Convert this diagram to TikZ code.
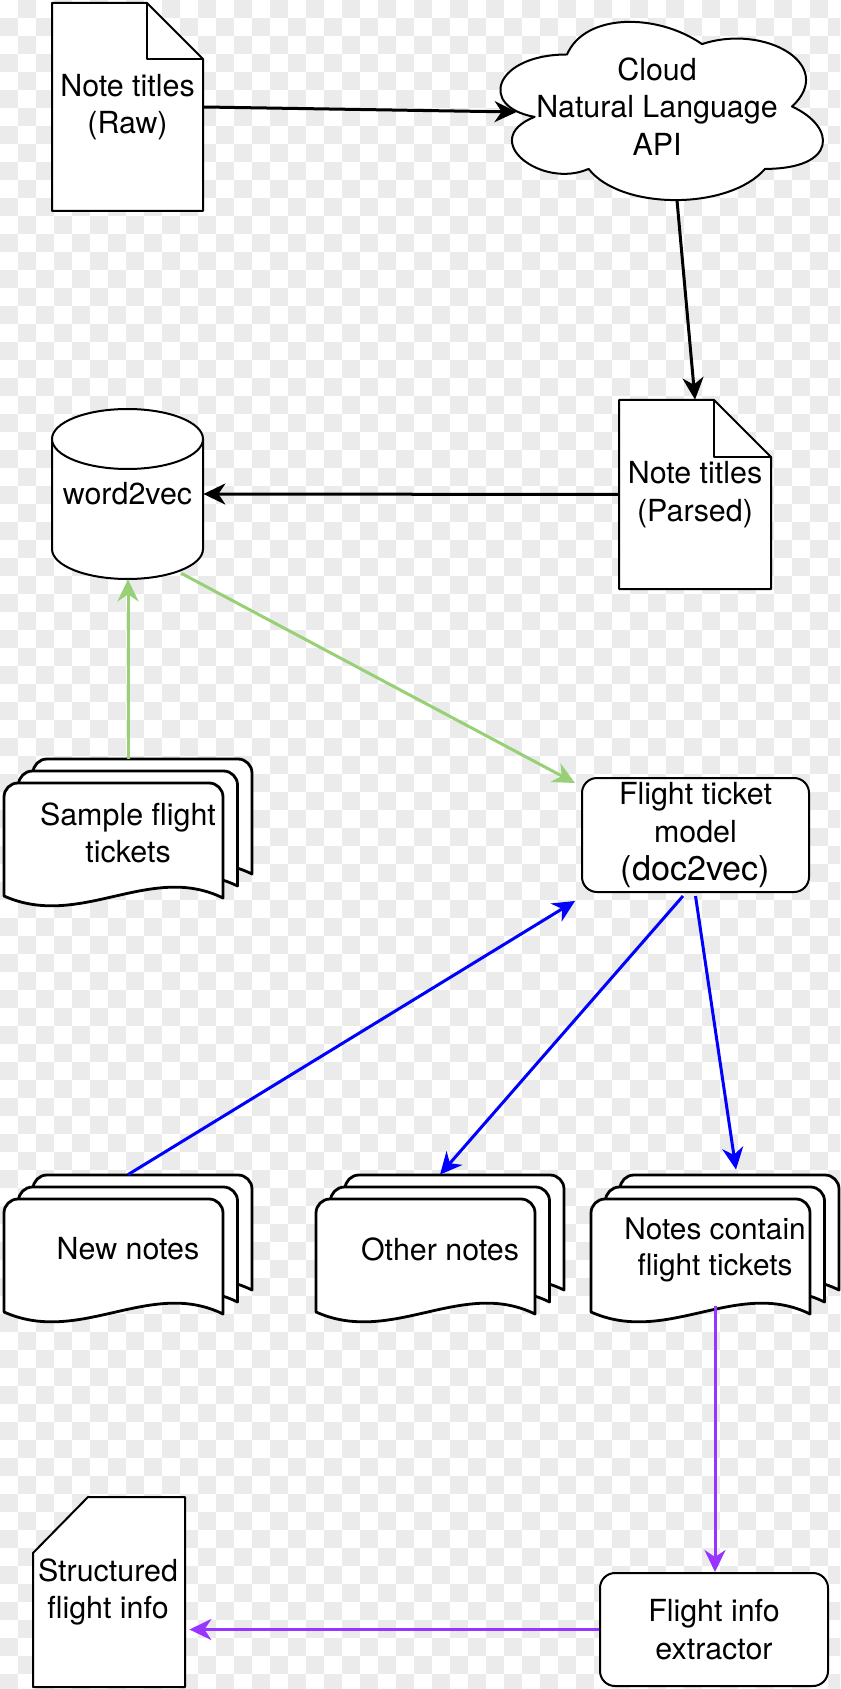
\documentclass[tikz,border=0pt]{standalone}
\usepackage{fontspec}
\setmainfont{TeX Gyre Heros}
\usetikzlibrary{arrows.meta,calc}
\definecolor{cbgray}{RGB}{235,235,235}
\definecolor{lgreen}{RGB}{151,208,119}
\definecolor{dblue}{RGB}{0,0,255}
\definecolor{dpurple}{RGB}{153,51,255}
\newcommand\onesheet[2]{%
  \draw[sheetline] (#1,#2+113) -- (#1,#2+14)
    arc[start angle=180,end angle=90,radius=7pt] -- (#1+205,#2)
    arc[start angle=90,end angle=0,radius=7pt] -- (#1+219,#2+115)
    .. controls (#1+146,#2+79) and (#1+76,#2+147) .. (#1,#2+113) -- cycle;}
\newcommand\multidoc[2]{%
  \onesheet{#1}{#2}%
  \onesheet{#1-14.5}{#2+12}%
  \onesheet{#1-29}{#2+24}}
\begin{document}
\begin{tikzpicture}[x=0.5pt,y=-0.5pt,
  txt/.style={inner sep=0pt, align=center, font=\fontsize{15.2}{18.8}\selectfont},
  outline/.style={draw=black, fill=white, line width=1pt, line join=round},
  sheetline/.style={draw=black, fill=white, line width=1.4pt, line join=round},
  rbox/.style={txt, draw=black, fill=white, line width=1pt, rounded corners=7.5pt},
  arr/.style={line width=1.5pt, -{Stealth[length=11pt,width=10.5pt,inset=3.5pt]}},
]
\useasboundingbox (0,0) rectangle (840,1689);
% checkerboard background
\begin{scope}
\clip (0,0) rectangle (840,1689);
\fill[white] (0,0) rectangle (840,1689);
\foreach \j in {0,...,93}{
  \foreach \k in {0,...,23}{
    \fill[cbgray] ({(2*\k+mod(\j+1,2))*18},{\j*18}) rectangle ++(18,18);
  }
}
\end{scope}

% shapes
\draw[outline] (52,3) -- (147,3) -- (203,59) -- (203,211) -- (52,211) -- cycle;
\draw[outline, fill=none] (147,3) -- (147,59) -- (203,59);

\draw[outline] (567,54.5)
  .. controls (495,54.5) and (477,106.5) .. (534.6,116.9)
  .. controls (477,139.8) and (541.8,189.7) .. (588.6,168.9)
  .. controls (621,210.5) and (729,210.5) .. (765,168.9)
  .. controls (837,168.9) and (837,127.3) .. (792,106.5)
  .. controls (837,64.9) and (765,23.3) .. (702,44.1)
  .. controls (657,12.9) and (585,12.9) .. (567,54.5) -- cycle;

\draw[outline] (619,400) -- (714,400) -- (771,457) -- (771,589) -- (619,589) -- cycle;
\draw[outline, fill=none] (714,400) -- (714,457) -- (771,457);

\draw[outline] (52,439) -- (52,549)
  arc[start angle=180,end angle=360,x radius=37.75pt,y radius=15pt] -- (203,439) -- cycle;
\draw[outline] (127.5,439) ellipse[x radius=37.75pt, y radius=15pt];

\multidoc{33}{759}
\multidoc{33}{1175}
\multidoc{345}{1175}
\multidoc{620}{1175}

\draw[outline] (88,1497) -- (185,1497) -- (185,1687) -- (33,1687) -- (33,1553) -- cycle;

% nodes
\node[txt, minimum width=75.5pt, minimum height=104pt] (raw) at (127.5,107) {Note titles\\(Raw)};
\node[txt, minimum width=180pt, minimum height=104pt] (cloud) at (657,106.5) {Cloud\\Natural Language\\API};
\node[txt, minimum width=76pt, minimum height=94.5pt] (parsed) at (695,494.5) {Note titles\\(Parsed)};
\node[txt, minimum width=75.5pt, minimum height=85pt] (w2v) at (127.5,494) {word2vec};
\node[txt, minimum width=124pt, minimum height=74pt] (sample) at (128,833) {Sample flight\\tickets};
\node[rbox, minimum width=113.5pt, minimum height=57pt] (model) at (695.5,835)
  {Flight ticket\\model\\{\fontsize{17.1}{19.5}\selectfont(doc2vec)}};
\node[txt, minimum width=124pt, minimum height=74pt] (new) at (128,1249) {New notes};
\node[txt, minimum width=124pt, minimum height=74pt] (other) at (440,1249) {Other notes};
\node[txt, minimum width=124pt, minimum height=74pt, font=\fontsize{14.9}{18.2}\selectfont] (contain) at (715,1250) {Notes contain\\flight tickets};
\node[txt, minimum width=76pt, minimum height=95pt] (structured) at (108,1592) {Structured\\flight info};
\node[rbox, minimum width=114pt, minimum height=56.5pt] (extractor) at (714,1629.5) {Flight info\\extractor};

% connectors
\draw[arr] (raw.east) -- ($(cloud.west)+(40,5.5)$);
\draw[arr] ($(cloud.south)+(20,-10.5)$) -- (parsed.north);
\draw[arr] (parsed.west) -- (w2v.east);
\draw[arr, lgreen] (sample.north) -- (sample.north |- w2v.south);
\draw[arr, lgreen] ($(w2v.south east)+(-22,-6)$) -- ($(model.north west)+(-6,6)$);
\draw[arr, dblue] (new.north) -- ($(model.south west)+(-6,8)$);
\draw[arr, dblue] ($(model.south)+(-12.5,3)$) -- (other.north);
\draw[arr, dblue] ($(model.south)+(0,3)$) -- ($(contain.north)+(21,-6)$);
\draw[arr, dpurple] ($(extractor.north)+(1,-266)$) -- ($(extractor.north)+(1,0)$);
\draw[arr, dpurple] (extractor.west) -- ($(structured.east |- extractor.west)+(5,0)$);
\end{tikzpicture}
\end{document}
